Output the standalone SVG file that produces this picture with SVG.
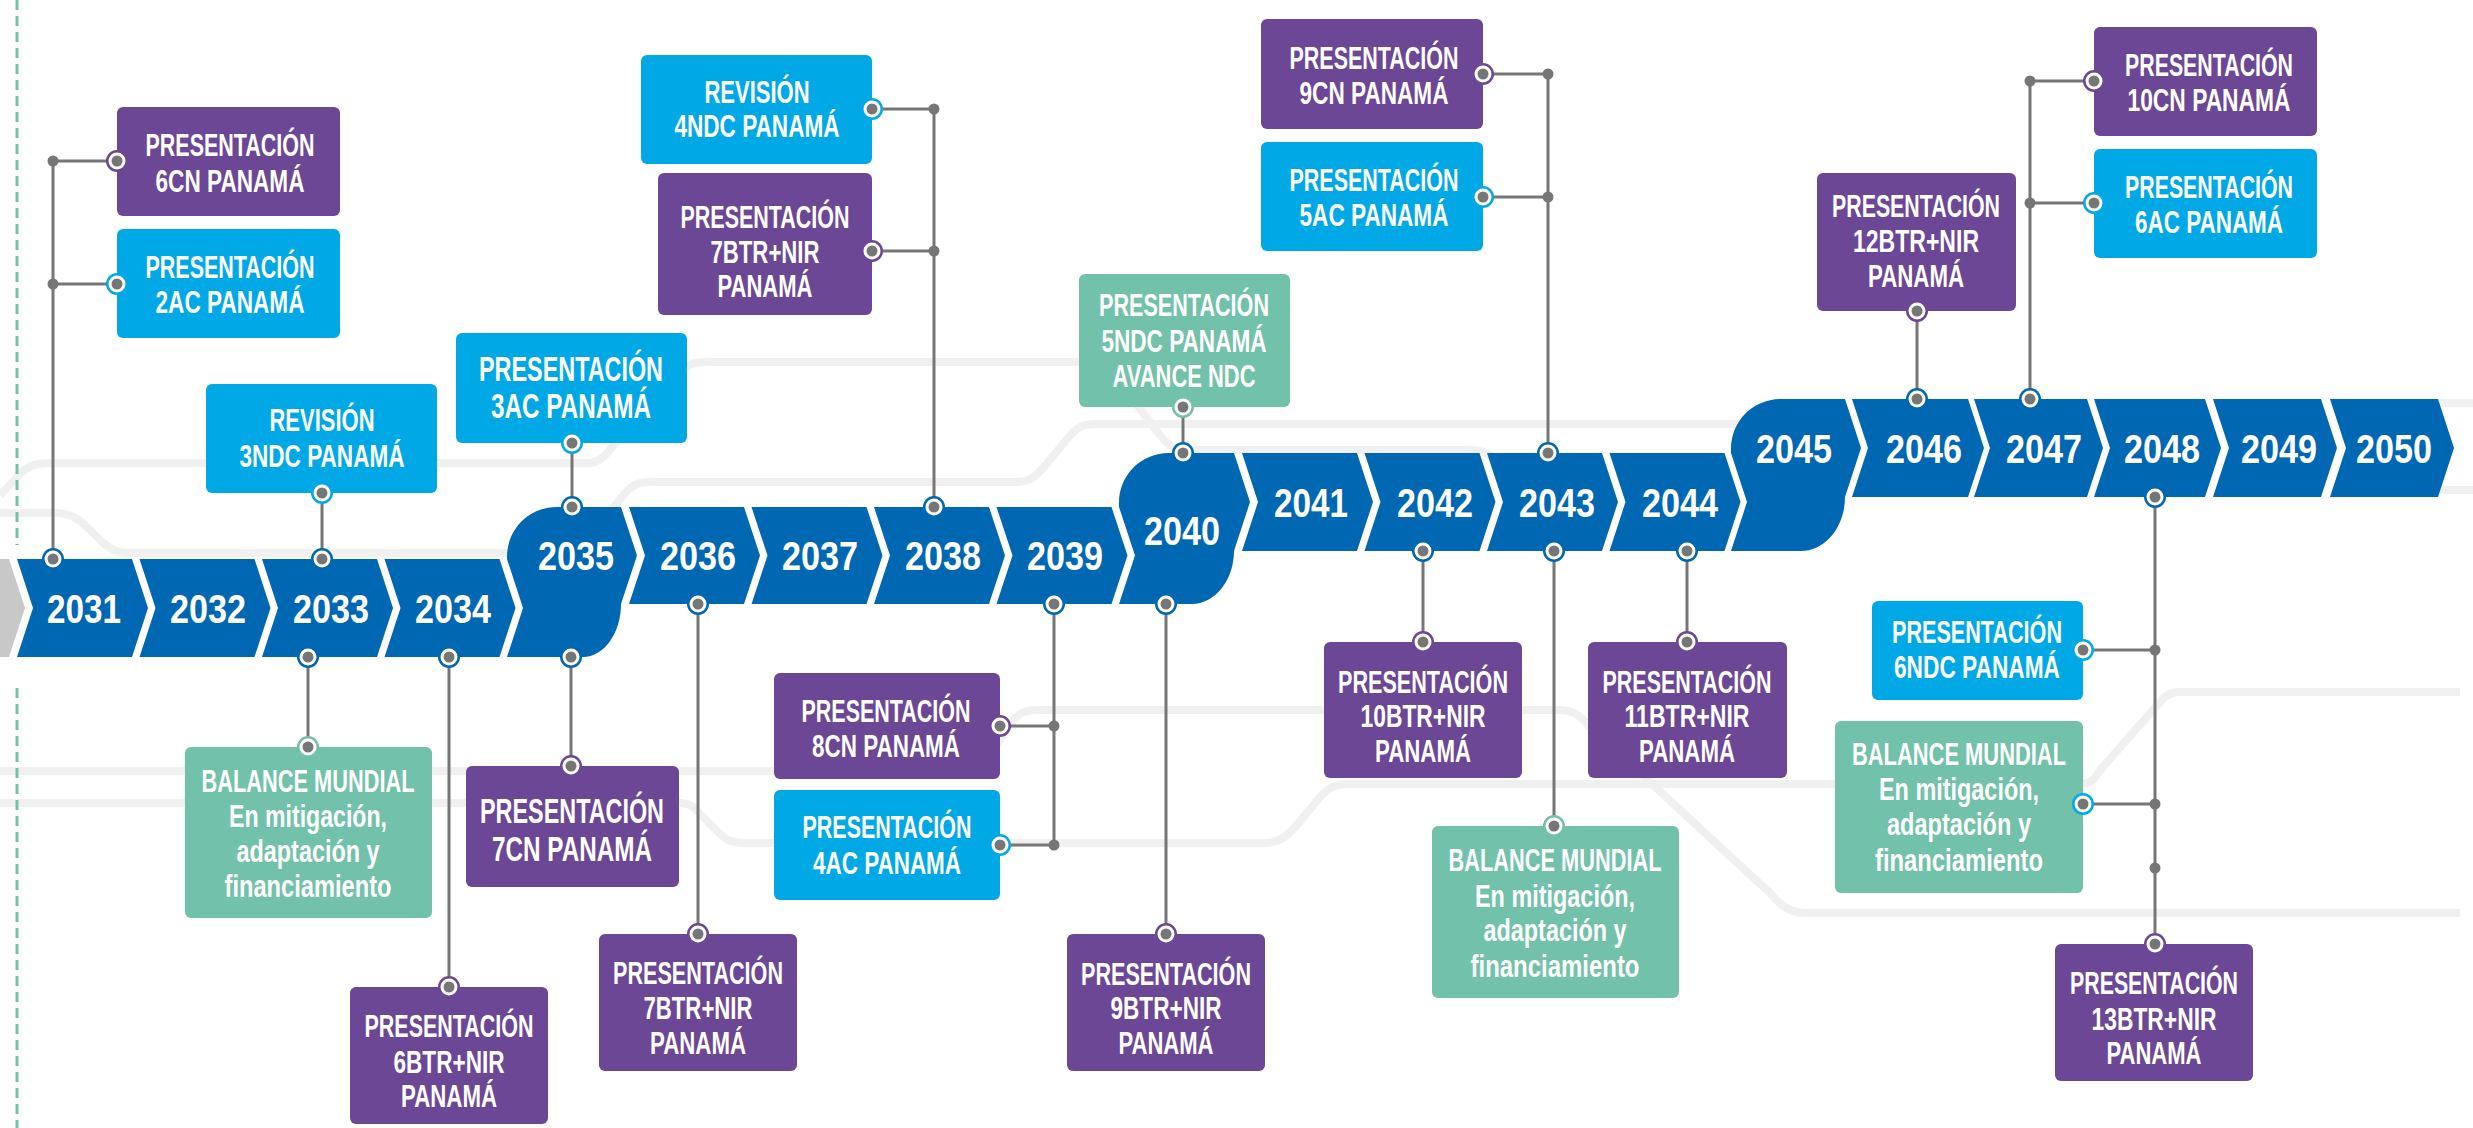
<svg xmlns="http://www.w3.org/2000/svg" xmlns:xlink="http://www.w3.org/1999/xlink" width="2473" height="1128" viewBox="0 0 2473 1128">
<style>
.yr{font-family:"Liberation Sans",Arial,sans-serif;font-weight:bold;font-size:41px;fill:#fff;text-anchor:middle}
.bx{font-family:"Liberation Sans",Arial,sans-serif;font-weight:bold;font-size:32px;fill:#fff;text-anchor:middle}
.bx35{font-size:35px}
.pu{fill:#6B4795}.bl{fill:#00A9E6}.te{fill:#72C1AA}.tl{fill:#0067B2}
.cn{stroke:#767676;stroke-width:3;fill:none}
.dot{fill:#767676}
.bg{stroke:#F0F0F0;stroke-width:8;fill:none;stroke-linejoin:round}
.dash{stroke:#6DC5A6;stroke-width:3;stroke-dasharray:10 6;fill:none}
</style>
<defs>
<g id="rc"><circle r="8.5" fill="#fff"/><circle r="5.5" fill="#767676"/></g>
</defs>
<rect width="2473" height="1128" fill="#fff"/>
<g id="background">
<path class="bg" d="M0,513 H57 C75,513 85,525 95,535 C105,545 112,553 130,553 H520"/>
<path class="bg" d="M0,495 L22,472 C30,465 38,463 50,463 H587 C600,463 606,455 612,447 L680,372 C688,364 694,362 708,362 H1095 C1105,362 1110,368 1118,380 L1160,435 C1168,446 1175,450 1190,450 H1470 C1485,450 1492,455 1500,465"/>
<path class="bg" d="M610,512 L625,493 C632,485 638,482 652,482 H1016 C1030,482 1036,476 1044,467 L1068,438 C1076,428 1082,424 1096,424 H1760"/>
<path class="bg" d="M2400,403 H2473 M2400,490 H2473"/>
<path class="bg" d="M0,771 H960 C975,771 982,765 990,755 L1012,722 C1018,714 1024,710 1036,710 H1559 C1572,710 1580,715 1588,725 L1770,893 C1780,905 1790,913 1805,913 H2460"/>
<path class="bg" d="M0,803 H680 C690,803 695,808 702,816 L718,832 C726,840 732,843 745,843 H1264 C1280,843 1288,835 1296,826 L1320,797 C1328,788 1335,784 1350,784 H2083 C2092,784 2096,776 2102,768 L2160,702 C2166,695 2170,692 2180,692 H2460"/>
<path class="dash" d="M17,0 V545 M17,688 V1128"/>
</g>
<g id="timeline">
<polygon points="0,559 9,559 25,608 9,657 0,657" fill="#C8C8C8"/>
<polygon class="tl" points="17,559 132,559 148,608 132,657 17,657 33,608"/>
<polygon class="tl" points="139.5,559 254.5,559 270.5,608 254.5,657 139.5,657 155.5,608"/>
<polygon class="tl" points="262,559 377,559 393,608 377,657 262,657 278,608"/>
<polygon class="tl" points="384.5,559 499.5,559 515.5,608 499.5,657 384.5,657 400.5,608"/>
<path class="tl" d="M507,557 C507,529 529,507 557,507 L621,507 L637,555.5 L621,604 C621,633 604,657 583,657 L507,657 L523,608 L507,559 Z"/>
<polygon class="tl" points="629,507 744,507 760,555.5 744,604 629,604 645,555.5"/>
<polygon class="tl" points="751.5,507 866.5,507 882.5,555.5 866.5,604 751.5,604 767.5,555.5"/>
<polygon class="tl" points="874,507 989,507 1005,555.5 989,604 874,604 890,555.5"/>
<polygon class="tl" points="996.5,507 1111.5,507 1127.5,555.5 1111.5,604 996.5,604 1012.5,555.5"/>
<path class="tl" d="M1119,503 C1119,475 1141,453 1169,453 L1234,453 L1250,502 L1234,551 C1234,580 1215,604 1192,604 L1119,604 L1135,555.5 L1119,507 Z"/>
<polygon class="tl" points="1242,453 1357,453 1373,502 1357,551 1242,551 1258,502"/>
<polygon class="tl" points="1364.5,453 1479.5,453 1495.5,502 1479.5,551 1364.5,551 1380.5,502"/>
<polygon class="tl" points="1487,453 1602,453 1618,502 1602,551 1487,551 1503,502"/>
<polygon class="tl" points="1609.5,453 1724.5,453 1740.5,502 1724.5,551 1609.5,551 1625.5,502"/>
<path class="tl" d="M1731,449 C1731,421 1753,399 1781,399 L1845,399 L1861,448 L1845,497 C1845,526 1826,551 1801,551 L1731,551 L1747,502 L1731,453 Z"/>
<polygon class="tl" points="1852,399 1968,399 1984,448 1968,497 1852,497 1868,448"/>
<polygon class="tl" points="1974,399 2087,399 2103,448 2087,497 1974,497 1990,448"/>
<polygon class="tl" points="2094,399 2205,399 2221,448 2205,497 2094,497 2110,448"/>
<polygon class="tl" points="2213,399 2321,399 2337,448 2321,497 2213,497 2229,448"/>
<polygon class="tl" points="2330,399 2438,399 2454,448 2438,497 2330,497 2346,448"/>
<text class="yr" x="84" y="622.5" textLength="74" lengthAdjust="spacingAndGlyphs">2031</text>
<text class="yr" x="208" y="622.5" textLength="76" lengthAdjust="spacingAndGlyphs">2032</text>
<text class="yr" x="331" y="622.5" textLength="76" lengthAdjust="spacingAndGlyphs">2033</text>
<text class="yr" x="453" y="622.5" textLength="76" lengthAdjust="spacingAndGlyphs">2034</text>
<text class="yr" x="576" y="570" textLength="76" lengthAdjust="spacingAndGlyphs">2035</text>
<text class="yr" x="698" y="570" textLength="76" lengthAdjust="spacingAndGlyphs">2036</text>
<text class="yr" x="820" y="570" textLength="76" lengthAdjust="spacingAndGlyphs">2037</text>
<text class="yr" x="943" y="570" textLength="76" lengthAdjust="spacingAndGlyphs">2038</text>
<text class="yr" x="1065" y="570" textLength="76" lengthAdjust="spacingAndGlyphs">2039</text>
<text class="yr" x="1182" y="544.5" textLength="76" lengthAdjust="spacingAndGlyphs">2040</text>
<text class="yr" x="1311" y="516.5" textLength="74" lengthAdjust="spacingAndGlyphs">2041</text>
<text class="yr" x="1435" y="516.5" textLength="76" lengthAdjust="spacingAndGlyphs">2042</text>
<text class="yr" x="1557" y="516.5" textLength="76" lengthAdjust="spacingAndGlyphs">2043</text>
<text class="yr" x="1680" y="516.5" textLength="76" lengthAdjust="spacingAndGlyphs">2044</text>
<text class="yr" x="1794" y="462.5" textLength="76" lengthAdjust="spacingAndGlyphs">2045</text>
<text class="yr" x="1924" y="462.5" textLength="76" lengthAdjust="spacingAndGlyphs">2046</text>
<text class="yr" x="2044" y="462.5" textLength="76" lengthAdjust="spacingAndGlyphs">2047</text>
<text class="yr" x="2162" y="462.5" textLength="76" lengthAdjust="spacingAndGlyphs">2048</text>
<text class="yr" x="2279" y="462.5" textLength="76" lengthAdjust="spacingAndGlyphs">2049</text>
<text class="yr" x="2394" y="462.5" textLength="76" lengthAdjust="spacingAndGlyphs">2050</text>
</g>
<g id="n-6cn"><rect class="pu" x="117" y="107" width="223" height="109" rx="6"/>
<text class="bx" x="230" y="156" textLength="169" lengthAdjust="spacingAndGlyphs">PRESENTACIÓN</text>
<text class="bx" x="230" y="192" textLength="149" lengthAdjust="spacingAndGlyphs">6CN PANAMÁ</text></g>
<g id="n-2ac"><rect class="bl" x="117" y="229" width="223" height="109" rx="6"/>
<text class="bx" x="230" y="278" textLength="169" lengthAdjust="spacingAndGlyphs">PRESENTACIÓN</text>
<text class="bx" x="230" y="313" textLength="149" lengthAdjust="spacingAndGlyphs">2AC PANAMÁ</text></g>
<g id="n-3ndc"><rect class="bl" x="206" y="384" width="231" height="109" rx="6"/>
<text class="bx" x="322" y="431" textLength="105" lengthAdjust="spacingAndGlyphs">REVISIÓN</text>
<text class="bx" x="322" y="467" textLength="165" lengthAdjust="spacingAndGlyphs">3NDC PANAMÁ</text></g>
<g id="n-3ac"><rect class="bl" x="456" y="333" width="231" height="110" rx="6"/>
<text class="bx bx35" x="571" y="381" textLength="184" lengthAdjust="spacingAndGlyphs">PRESENTACIÓN</text>
<text class="bx bx35" x="571" y="418" textLength="160" lengthAdjust="spacingAndGlyphs">3AC PANAMÁ</text></g>
<g id="n-4ndc"><rect class="bl" x="641" y="55" width="231" height="109" rx="6"/>
<text class="bx" x="757" y="103" textLength="105" lengthAdjust="spacingAndGlyphs">REVISIÓN</text>
<text class="bx" x="757" y="137" textLength="165" lengthAdjust="spacingAndGlyphs">4NDC PANAMÁ</text></g>
<g id="n-7btr-a"><rect class="pu" x="658" y="173" width="214" height="142" rx="6"/>
<text class="bx" x="765" y="228" textLength="169" lengthAdjust="spacingAndGlyphs">PRESENTACIÓN</text>
<text class="bx" x="765" y="263" textLength="109" lengthAdjust="spacingAndGlyphs">7BTR+NIR</text>
<text class="bx" x="765" y="297" textLength="95" lengthAdjust="spacingAndGlyphs">PANAMÁ</text></g>
<g id="n-5ndc"><rect class="te" x="1079" y="274" width="211" height="133" rx="6"/>
<text class="bx" x="1184" y="316" textLength="170" lengthAdjust="spacingAndGlyphs">PRESENTACIÓN</text>
<text class="bx" x="1184" y="352" textLength="165" lengthAdjust="spacingAndGlyphs">5NDC PANAMÁ</text>
<text class="bx" x="1184" y="387" textLength="143" lengthAdjust="spacingAndGlyphs">AVANCE NDC</text></g>
<g id="n-9cn"><rect class="pu" x="1261" y="19" width="222" height="110" rx="6"/>
<text class="bx" x="1374" y="69" textLength="169" lengthAdjust="spacingAndGlyphs">PRESENTACIÓN</text>
<text class="bx" x="1374" y="104" textLength="149" lengthAdjust="spacingAndGlyphs">9CN PANAMÁ</text></g>
<g id="n-5ac"><rect class="bl" x="1261" y="142" width="222" height="109" rx="6"/>
<text class="bx" x="1374" y="191" textLength="169" lengthAdjust="spacingAndGlyphs">PRESENTACIÓN</text>
<text class="bx" x="1374" y="226" textLength="149" lengthAdjust="spacingAndGlyphs">5AC PANAMÁ</text></g>
<g id="n-12btr"><rect class="pu" x="1817" y="173" width="199" height="138" rx="6"/>
<text class="bx" x="1916" y="217" textLength="168" lengthAdjust="spacingAndGlyphs">PRESENTACIÓN</text>
<text class="bx" x="1916" y="252" textLength="126" lengthAdjust="spacingAndGlyphs">12BTR+NIR</text>
<text class="bx" x="1916" y="287" textLength="96" lengthAdjust="spacingAndGlyphs">PANAMÁ</text></g>
<g id="n-10cn"><rect class="pu" x="2094" y="27" width="223" height="109" rx="6"/>
<text class="bx" x="2209" y="76" textLength="168" lengthAdjust="spacingAndGlyphs">PRESENTACIÓN</text>
<text class="bx" x="2209" y="111" textLength="163" lengthAdjust="spacingAndGlyphs">10CN PANAMÁ</text></g>
<g id="n-6ac"><rect class="bl" x="2094" y="149" width="223" height="109" rx="6"/>
<text class="bx" x="2209" y="198" textLength="168" lengthAdjust="spacingAndGlyphs">PRESENTACIÓN</text>
<text class="bx" x="2209" y="233" textLength="148" lengthAdjust="spacingAndGlyphs">6AC PANAMÁ</text></g>
<g id="n-bal-1"><rect class="te" x="185" y="747" width="247" height="171" rx="6"/>
<text class="bx" x="308" y="792" textLength="213" lengthAdjust="spacingAndGlyphs">BALANCE MUNDIAL</text>
<text class="bx" x="308" y="827" textLength="158" lengthAdjust="spacingAndGlyphs">En mitigación,</text>
<text class="bx" x="308" y="862" textLength="143" lengthAdjust="spacingAndGlyphs">adaptación y</text>
<text class="bx" x="308" y="897" textLength="167" lengthAdjust="spacingAndGlyphs">financiamiento</text></g>
<g id="n-6btr"><rect class="pu" x="350" y="987" width="198" height="137" rx="6"/>
<text class="bx" x="449" y="1037" textLength="169" lengthAdjust="spacingAndGlyphs">PRESENTACIÓN</text>
<text class="bx" x="449" y="1073" textLength="111" lengthAdjust="spacingAndGlyphs">6BTR+NIR</text>
<text class="bx" x="449" y="1107" textLength="96" lengthAdjust="spacingAndGlyphs">PANAMÁ</text></g>
<g id="n-7cn"><rect class="pu" x="466" y="766" width="213" height="121" rx="6"/>
<text class="bx bx35" x="572" y="823" textLength="184" lengthAdjust="spacingAndGlyphs">PRESENTACIÓN</text>
<text class="bx bx35" x="572" y="861" textLength="160" lengthAdjust="spacingAndGlyphs">7CN PANAMÁ</text></g>
<g id="n-7btr-b"><rect class="pu" x="599" y="934" width="198" height="137" rx="6"/>
<text class="bx" x="698" y="984" textLength="170" lengthAdjust="spacingAndGlyphs">PRESENTACIÓN</text>
<text class="bx" x="698" y="1019" textLength="109" lengthAdjust="spacingAndGlyphs">7BTR+NIR</text>
<text class="bx" x="698" y="1054" textLength="96" lengthAdjust="spacingAndGlyphs">PANAMÁ</text></g>
<g id="n-8cn"><rect class="pu" x="774" y="673" width="226" height="106" rx="6"/>
<text class="bx" x="886" y="722" textLength="169" lengthAdjust="spacingAndGlyphs">PRESENTACIÓN</text>
<text class="bx" x="886" y="757" textLength="148" lengthAdjust="spacingAndGlyphs">8CN PANAMÁ</text></g>
<g id="n-4ac"><rect class="bl" x="774" y="790" width="226" height="110" rx="6"/>
<text class="bx" x="887" y="838" textLength="169" lengthAdjust="spacingAndGlyphs">PRESENTACIÓN</text>
<text class="bx" x="887" y="874" textLength="148" lengthAdjust="spacingAndGlyphs">4AC PANAMÁ</text></g>
<g id="n-9btr"><rect class="pu" x="1067" y="934" width="198" height="137" rx="6"/>
<text class="bx" x="1166" y="985" textLength="170" lengthAdjust="spacingAndGlyphs">PRESENTACIÓN</text>
<text class="bx" x="1166" y="1019" textLength="111" lengthAdjust="spacingAndGlyphs">9BTR+NIR</text>
<text class="bx" x="1166" y="1054" textLength="95" lengthAdjust="spacingAndGlyphs">PANAMÁ</text></g>
<g id="n-10btr"><rect class="pu" x="1324" y="642" width="198" height="136" rx="6"/>
<text class="bx" x="1423" y="693" textLength="170" lengthAdjust="spacingAndGlyphs">PRESENTACIÓN</text>
<text class="bx" x="1423" y="727" textLength="125" lengthAdjust="spacingAndGlyphs">10BTR+NIR</text>
<text class="bx" x="1423" y="762" textLength="96" lengthAdjust="spacingAndGlyphs">PANAMÁ</text></g>
<g id="n-11btr"><rect class="pu" x="1588" y="642" width="199" height="136" rx="6"/>
<text class="bx" x="1687" y="693" textLength="169" lengthAdjust="spacingAndGlyphs">PRESENTACIÓN</text>
<text class="bx" x="1687" y="727" textLength="125" lengthAdjust="spacingAndGlyphs">11BTR+NIR</text>
<text class="bx" x="1687" y="762" textLength="96" lengthAdjust="spacingAndGlyphs">PANAMÁ</text></g>
<g id="n-bal-2"><rect class="te" x="1432" y="826" width="247" height="172" rx="6"/>
<text class="bx" x="1555" y="871" textLength="213" lengthAdjust="spacingAndGlyphs">BALANCE MUNDIAL</text>
<text class="bx" x="1555" y="907" textLength="160" lengthAdjust="spacingAndGlyphs">En mitigación,</text>
<text class="bx" x="1555" y="941" textLength="143" lengthAdjust="spacingAndGlyphs">adaptación y</text>
<text class="bx" x="1555" y="977" textLength="169" lengthAdjust="spacingAndGlyphs">financiamiento</text></g>
<g id="n-6ndc"><rect class="bl" x="1872" y="601" width="211" height="99" rx="6"/>
<text class="bx" x="1977" y="643" textLength="170" lengthAdjust="spacingAndGlyphs">PRESENTACIÓN</text>
<text class="bx" x="1977" y="678" textLength="166" lengthAdjust="spacingAndGlyphs">6NDC PANAMÁ</text></g>
<g id="n-bal-3"><rect class="te" x="1835" y="721" width="248" height="172" rx="6"/>
<text class="bx" x="1959" y="765" textLength="214" lengthAdjust="spacingAndGlyphs">BALANCE MUNDIAL</text>
<text class="bx" x="1959" y="800" textLength="160" lengthAdjust="spacingAndGlyphs">En mitigación,</text>
<text class="bx" x="1959" y="835" textLength="144" lengthAdjust="spacingAndGlyphs">adaptación y</text>
<text class="bx" x="1959" y="871" textLength="168" lengthAdjust="spacingAndGlyphs">financiamiento</text></g>
<g id="n-13btr"><rect class="pu" x="2055" y="944" width="198" height="137" rx="6"/>
<text class="bx" x="2154" y="994" textLength="168" lengthAdjust="spacingAndGlyphs">PRESENTACIÓN</text>
<text class="bx" x="2154" y="1030" textLength="125" lengthAdjust="spacingAndGlyphs">13BTR+NIR</text>
<text class="bx" x="2154" y="1064" textLength="95" lengthAdjust="spacingAndGlyphs">PANAMÁ</text></g>
<g id="connectors">
<path class="cn" d="M53,559 V161 H117 M53,284 H117"/>
<path class="cn" d="M322,493 V559"/>
<path class="cn" d="M308,657 V747"/>
<path class="cn" d="M449,657 V987"/>
<path class="cn" d="M572,443 V507"/>
<path class="cn" d="M571,657 V766"/>
<path class="cn" d="M698,604 V934"/>
<path class="cn" d="M934,507 V109 H872 M934,251 H872"/>
<path class="cn" d="M1054,604 V845 H1000 M1054,726 H1000"/>
<path class="cn" d="M1183,407 V453"/>
<path class="cn" d="M1166,604 V934"/>
<path class="cn" d="M1548,453 V74 H1483 M1548,197 H1483"/>
<path class="cn" d="M1423,551 V642"/>
<path class="cn" d="M1554,551 V826"/>
<path class="cn" d="M1687,551 V642"/>
<path class="cn" d="M1917,311 V399"/>
<path class="cn" d="M2030,399 V81 H2094 M2030,203 H2094"/>
<path class="cn" d="M2155,497 V944 M2155,650 H2083 M2155,804 H2083"/>
<g class="dot">
<circle cx="53" cy="161" r="5.5"/><circle cx="53" cy="284" r="5.5"/>
<circle cx="934" cy="109" r="5.5"/><circle cx="934" cy="251" r="5.5"/>
<circle cx="1054" cy="726" r="5.5"/><circle cx="1054" cy="845" r="5.5"/>
<circle cx="1548" cy="74" r="5.5"/><circle cx="1548" cy="197" r="5.5"/>
<circle cx="2030" cy="81" r="5.5"/><circle cx="2030" cy="203" r="5.5"/>
<circle cx="2155" cy="650" r="5.5"/><circle cx="2155" cy="804" r="5.5"/><circle cx="2155" cy="868" r="5.5"/>
</g>
<g class="tl">
<circle cx="53" cy="559" r="11"/><circle cx="322" cy="559" r="11"/><circle cx="308" cy="657" r="11"/><circle cx="449" cy="657" r="11"/>
<circle cx="572" cy="507" r="11"/><circle cx="571" cy="657" r="11"/><circle cx="698" cy="604" r="11"/><circle cx="934" cy="507" r="11"/>
<circle cx="1054" cy="604" r="11"/><circle cx="1183" cy="453" r="11"/><circle cx="1166" cy="604" r="11"/><circle cx="1548" cy="453" r="11"/>
<circle cx="1423" cy="551" r="11"/><circle cx="1554" cy="551" r="11"/><circle cx="1687" cy="551" r="11"/>
<circle cx="1917" cy="399" r="11"/><circle cx="2030" cy="399" r="11"/><circle cx="2155" cy="497" r="11"/>
</g>
<g class="pu">
<circle cx="117" cy="161" r="11"/><circle cx="449" cy="987" r="11"/><circle cx="571" cy="766" r="11"/><circle cx="698" cy="934" r="11"/>
<circle cx="872" cy="251" r="11"/><circle cx="1000" cy="726" r="11"/><circle cx="1166" cy="934" r="11"/><circle cx="1483" cy="74" r="11"/>
<circle cx="1423" cy="642" r="11"/><circle cx="1687" cy="642" r="11"/><circle cx="1917" cy="311" r="11"/><circle cx="2094" cy="81" r="11"/>
<circle cx="2155" cy="944" r="11"/>
</g>
<g class="bl">
<circle cx="117" cy="284" r="11"/><circle cx="322" cy="493" r="11"/><circle cx="572" cy="443" r="11"/><circle cx="872" cy="109" r="11"/>
<circle cx="1000" cy="845" r="11"/><circle cx="1483" cy="197" r="11"/><circle cx="2094" cy="203" r="11"/><circle cx="2083" cy="650" r="11"/>
<circle cx="2083" cy="804" r="11"/>
</g>
<g class="te">
<circle cx="308" cy="747" r="11"/><circle cx="1183" cy="407" r="11"/><circle cx="1554" cy="826" r="11"/>
</g>
<use href="#rc" x="53" y="559"/><use href="#rc" x="322" y="559"/><use href="#rc" x="308" y="657"/><use href="#rc" x="449" y="657"/>
<use href="#rc" x="572" y="507"/><use href="#rc" x="571" y="657"/><use href="#rc" x="698" y="604"/><use href="#rc" x="934" y="507"/>
<use href="#rc" x="1054" y="604"/><use href="#rc" x="1183" y="453"/><use href="#rc" x="1166" y="604"/><use href="#rc" x="1548" y="453"/>
<use href="#rc" x="1423" y="551"/><use href="#rc" x="1554" y="551"/><use href="#rc" x="1687" y="551"/>
<use href="#rc" x="1917" y="399"/><use href="#rc" x="2030" y="399"/><use href="#rc" x="2155" y="497"/>
<use href="#rc" x="117" y="161"/><use href="#rc" x="449" y="987"/><use href="#rc" x="571" y="766"/><use href="#rc" x="698" y="934"/>
<use href="#rc" x="872" y="251"/><use href="#rc" x="1000" y="726"/><use href="#rc" x="1166" y="934"/><use href="#rc" x="1483" y="74"/>
<use href="#rc" x="1423" y="642"/><use href="#rc" x="1687" y="642"/><use href="#rc" x="1917" y="311"/><use href="#rc" x="2094" y="81"/>
<use href="#rc" x="2155" y="944"/>
<use href="#rc" x="117" y="284"/><use href="#rc" x="322" y="493"/><use href="#rc" x="572" y="443"/><use href="#rc" x="872" y="109"/>
<use href="#rc" x="1000" y="845"/><use href="#rc" x="1483" y="197"/><use href="#rc" x="2094" y="203"/><use href="#rc" x="2083" y="650"/>
<use href="#rc" x="2083" y="804"/>
<use href="#rc" x="308" y="747"/><use href="#rc" x="1183" y="407"/><use href="#rc" x="1554" y="826"/>
</g>
</svg>
